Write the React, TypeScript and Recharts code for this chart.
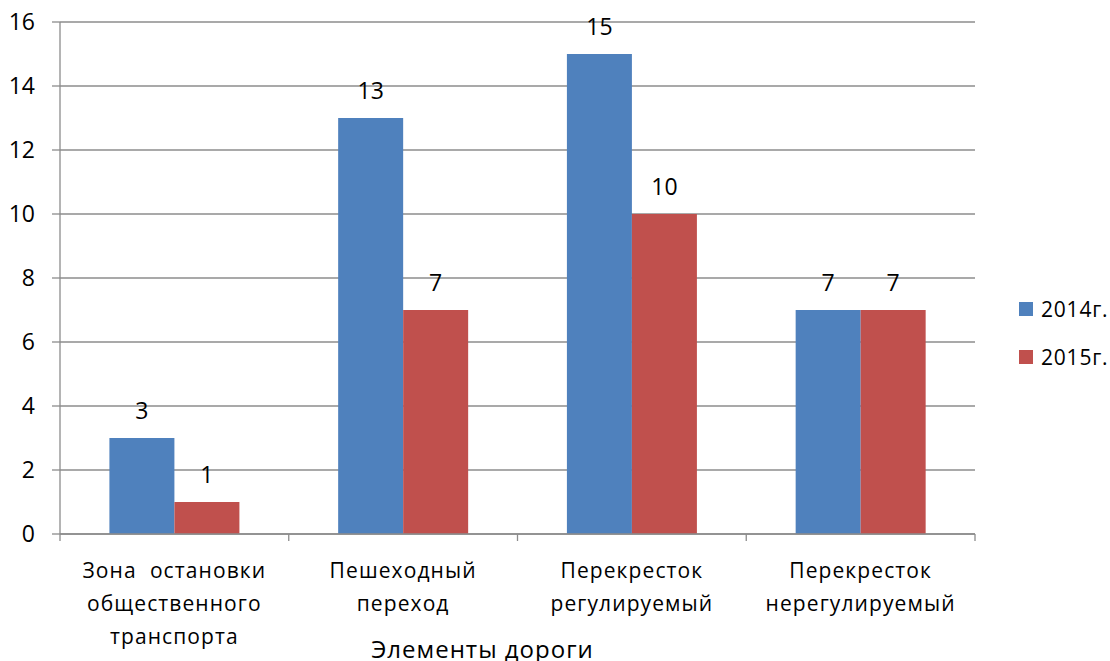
import React from 'react';
import { BarChart, Bar, XAxis, YAxis, CartesianGrid, Legend, LabelList } from 'recharts';

const categories = ['Зона  остановки|общественного|транспорта', 'Пешеходный|переход', 'Перекресток|регулируемый', 'Перекресток|нерегулируемый'];
const values2014 = [3, 13, 15, 7];
const values2015 = [1, 7, 10, 7];
const yTicks = [0, 2, 4, 6, 8, 10, 12, 14, 16];
const seriesNames = ['2014г.', '2015г.'];
const axisTitle = 'Элементы дороги';

const data = categories.map((c, i) => ({ name: c, v2014: values2014[i], v2015: values2015[i] }));

const FONT = '"Open Sans", sans-serif';
const GRID = '#8c8c8c';

const XTick = (props: any) => {
  const { x, y, payload, index, width, visibleTicksCount } = props;
  const off = payload && payload.offset != null ? payload.offset : width / (2 * visibleTicksCount);
  const lines = String(payload.value).split('|');
  const last = index === visibleTicksCount - 1;
  return (
    <g>
      <line x1={x - off} x2={x - off} y1={y} y2={y + 7} stroke={GRID} strokeWidth={1.3} />
      {last && <line x1={x + off} x2={x + off} y1={y} y2={y + 7} stroke={GRID} strokeWidth={1.3} />}
      {lines.map((l, i) => (
        <text key={i} x={x} y={y + 44 + i * 33} textAnchor="middle" fill="#000" fontSize={21} letterSpacing={1.1} fontFamily={FONT} style={{ whiteSpace: 'pre' }}>
          {l}
        </text>
      ))}
    </g>
  );
};

const renderLegend = (props: any) => (
  <div style={{ display: 'flex', flexDirection: 'column', fontFamily: FONT, fontSize: 21, letterSpacing: 0.8, color: '#000' }}>
    {props.payload.map((e: any, i: number) => (
      <div key={i} style={{ display: 'flex', alignItems: 'center', height: 48, whiteSpace: 'nowrap' }}>
        <span style={{ display: 'inline-block', width: 14, height: 14, background: e.color, marginRight: 8 }} />
        <span>{e.value}</span>
      </div>
    ))}
  </div>
);

export default function App() {
  return (
    <div style={{ position: 'absolute', left: 0, top: 0, width: 1110, height: 661, background: '#fff', fontFamily: FONT }}>
      <BarChart
        width={1110}
        height={661}
        data={data}
        margin={{ top: 22, right: 44, bottom: 0, left: 0 }}
        barCategoryGap="21.6%"
        barGap={0}
      >
        <CartesianGrid vertical={false} stroke={GRID} strokeWidth={1.3} />
        <XAxis
          dataKey="name"
          height={127}
          interval={0}
          tickSize={0}
          tickMargin={0}
          tickLine={false}
          axisLine={{ stroke: GRID, strokeWidth: 1.3 }}
          tick={<XTick />}
          label={{ value: axisTitle, position: 'insideBottom', offset: 3, dx: -35, fill: '#000', fontSize: 24, letterSpacing: 1, fontFamily: FONT }}
        />
        <YAxis
          width={60}
          domain={[0, 16]}
          ticks={yTicks}
          interval={0}
          tickSize={8}
          tickMargin={17}
          axisLine={{ stroke: GRID, strokeWidth: 1.3 }}
          tickLine={{ stroke: GRID, strokeWidth: 1.3 }}
          tick={{ fill: '#000', fontSize: 23, fontFamily: FONT }}
        />
        <Legend
          layout="vertical"
          align="right"
          verticalAlign="top"
          content={renderLegend}
          wrapperStyle={{ left: 1019, top: 285, width: 91 }}
        />
        <Bar dataKey="v2014" name={seriesNames[0]} fill="#4F81BD" isAnimationActive={false}>
          <LabelList dataKey="v2014" position="top" offset={19} fill="#000" fontSize={23} fontFamily={FONT} />
        </Bar>
        <Bar dataKey="v2015" name={seriesNames[1]} fill="#C0504D" isAnimationActive={false}>
          <LabelList dataKey="v2015" position="top" offset={19} fill="#000" fontSize={23} fontFamily={FONT} />
        </Bar>
      </BarChart>
    </div>
  );
}
